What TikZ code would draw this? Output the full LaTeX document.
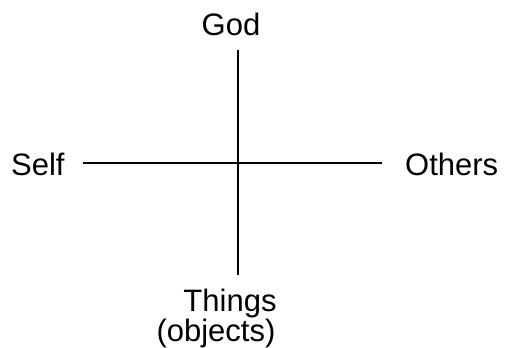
\documentclass[tikz,border=0pt]{standalone}
\usepackage{fontspec}
\setmainfont{Liberation Sans}
\usepackage{tikz}
\usetikzlibrary{positioning}

\begin{document}
\begin{tikzpicture}[
  x=1pt,y=-1pt,
  font=\fontsize{31}{27}\selectfont,
  lab/.style={inner sep=0pt,anchor=base},
  axis/.style={draw=black,line width=2.8pt}
]
\useasboundingbox (0,0) rectangle (507,348);
\node[lab]              (god)    at (231,35)  {God};
\node[lab,anchor=base west] (self)   at (11,175)  {Self};
\node[lab,anchor=base west] (others) at (405,175) {Others};
\node[lab]              (things) at (230,311) {Things};
\node[lab]              (objs)   at (216,341) {(objects)};

\coordinate (top)    at (238,50);
\coordinate (bottom) at (238,275);
\coordinate (left)   at (83,163);
\coordinate (right)  at (382,163);

\draw[axis] (top) -- (bottom);
\draw[axis] (left) -- (right);
\end{tikzpicture}
\end{document}
